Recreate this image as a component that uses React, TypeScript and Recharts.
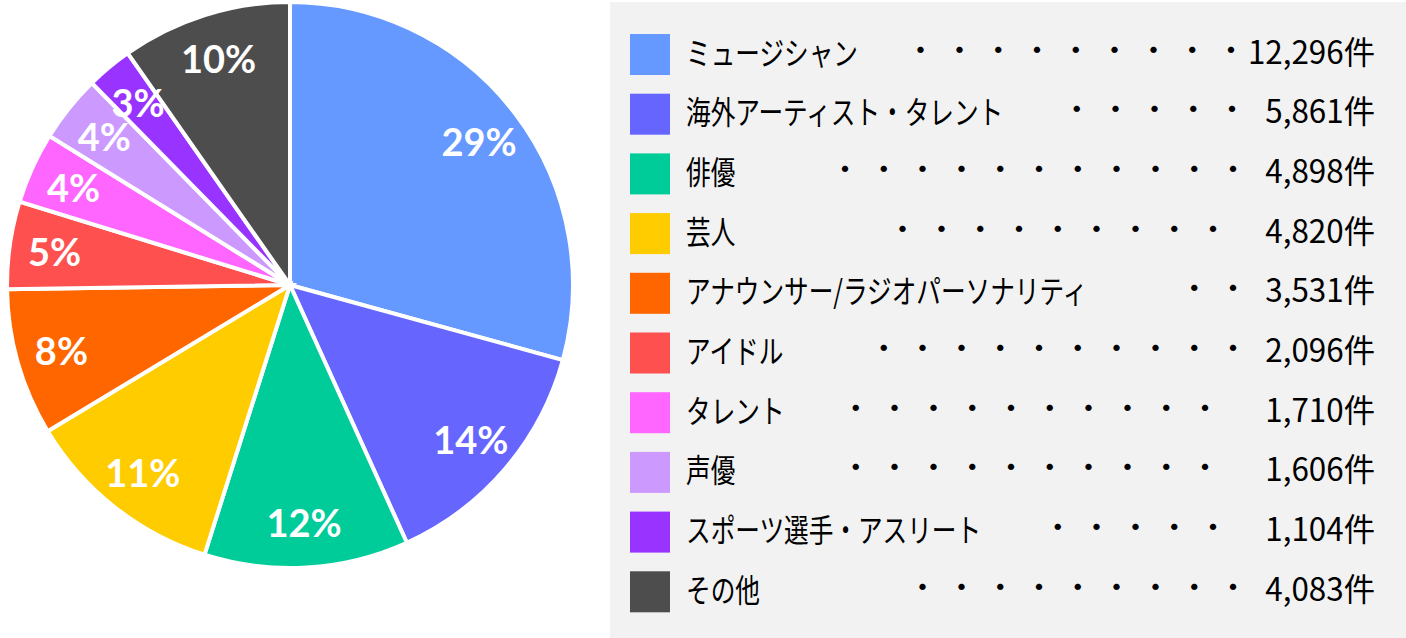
import { PieChart, Pie, Cell, Legend } from 'recharts'

const categories = [
  'ミュージシャン',
  '海外アーティスト・タレント',
  '俳優',
  '芸人',
  'アナウンサー/ラジオパーソナリティ',
  'アイドル',
  'タレント',
  '声優',
  'スポーツ選手・アスリート',
  'その他',
]
const counts = [12296, 5861, 4898, 4820, 3531, 2096, 1710, 1606, 1104, 4083]
const countLabels = ['12,296件', '5,861件', '4,898件', '4,820件', '3,531件', '2,096件', '1,710件', '1,606件', '1,104件', '4,083件']
const colors = ['#6699FF', '#6666FF', '#00CC99', '#FFCC00', '#FF6600', '#FF5050', '#FF66FF', '#CC99FF', '#9933FF', '#4D4D4D']
// number of leader dots in each legend row
const leaderDots = [9, 5, 11, 9, 2, 10, 10, 10, 5, 9]

const data = categories.map((name, i) => ({ name, value: counts[i] }))

// legend layout (page coords)
const LEGEND_LEFT = 610
const LEGEND_TOP = 2
const ROW_STEP = 59.7
const DOT_STEP = 38.8
const dotEnd = [1231, 1232, 1233, 1213, 1233, 1233, 1205, 1205, 1213, 1233]
const JP_FONT = "'Noto Sans CJK JP', sans-serif"

const RAD = Math.PI / 180

function SliceLabel(props: any) {
  const { cx, cy, midAngle, outerRadius, percent } = props
  const r = outerRadius * 0.84
  const x = cx + r * Math.cos(-midAngle * RAD)
  const y = cy + r * Math.sin(-midAngle * RAD)
  return (
    <text
      x={x}
      y={y}
      fill="#fff"
      textAnchor="middle"
      dominantBaseline="central"
      fontFamily="Lato, 'Open Sans', sans-serif"
      fontWeight={700}
      fontSize={38}
    >
      {Math.round(percent * 100)}%
    </text>
  )
}

function LegendBox() {
  return (
    <svg width={796} height={636} style={{ display: 'block' }}>
      <rect x={0} y={0} width={796} height={636} fill="#F2F2F2" />
      {categories.map((name, i) => {
        const base = 63.5 + ROW_STEP * i - LEGEND_TOP
        const end = dotEnd[i] - LEGEND_LEFT
        return (
          <g key={name}>
            <rect x={20} y={base - 29.5} width={40} height={41} fill={colors[i]} />
            <text
              transform={`translate(76, ${base + 1}) scale(0.77, 1)`}
              fontFamily={JP_FONT}
              fontSize={32}
              fill="#000"
            >
              {name}
            </text>
            {Array.from({ length: leaderDots[i] }, (_, k) => (
              <text
                key={k}
                x={end - (leaderDots[i] - 1 - k) * DOT_STEP}
                y={base - 3}
                textAnchor="middle"
                fontFamily={JP_FONT}
                fontSize={30}
                fill="#000"
              >
                ・
              </text>
            ))}
            <text
              transform={`translate(${1375 - LEGEND_LEFT}, ${base}) scale(0.98, 1)`}
              textAnchor="end"
              fontFamily={JP_FONT}
              fontSize={32}
              fill="#000"
            >
              {countLabels[i]}
            </text>
          </g>
        )
      })}
    </svg>
  )
}

export default function App() {
  return (
    <div style={{ position: 'absolute', left: 0, top: 0, width: 1406, height: 638, background: '#fff' }}>
      <PieChart width={1406} height={638} margin={{ top: 0, right: 0, bottom: 0, left: 0 }}>
        <Pie
          data={data}
          dataKey="value"
          nameKey="name"
          cx={290}
          cy={285}
          outerRadius={283}
          startAngle={90}
          endAngle={-270}
          stroke="#fff"
          strokeWidth={4}
          label={SliceLabel}
          labelLine={false}
          isAnimationActive={false}
        >
          {data.map((entry, index) => (
            <Cell key={`cell-${index}`} fill={colors[index]} />
          ))}
        </Pie>
        <Legend
          layout="vertical"
          align="right"
          verticalAlign="top"
          content={() => <LegendBox />}
          wrapperStyle={{ position: 'absolute', left: LEGEND_LEFT, top: LEGEND_TOP, width: 796, height: 636 }}
        />
      </PieChart>
    </div>
  )
}
